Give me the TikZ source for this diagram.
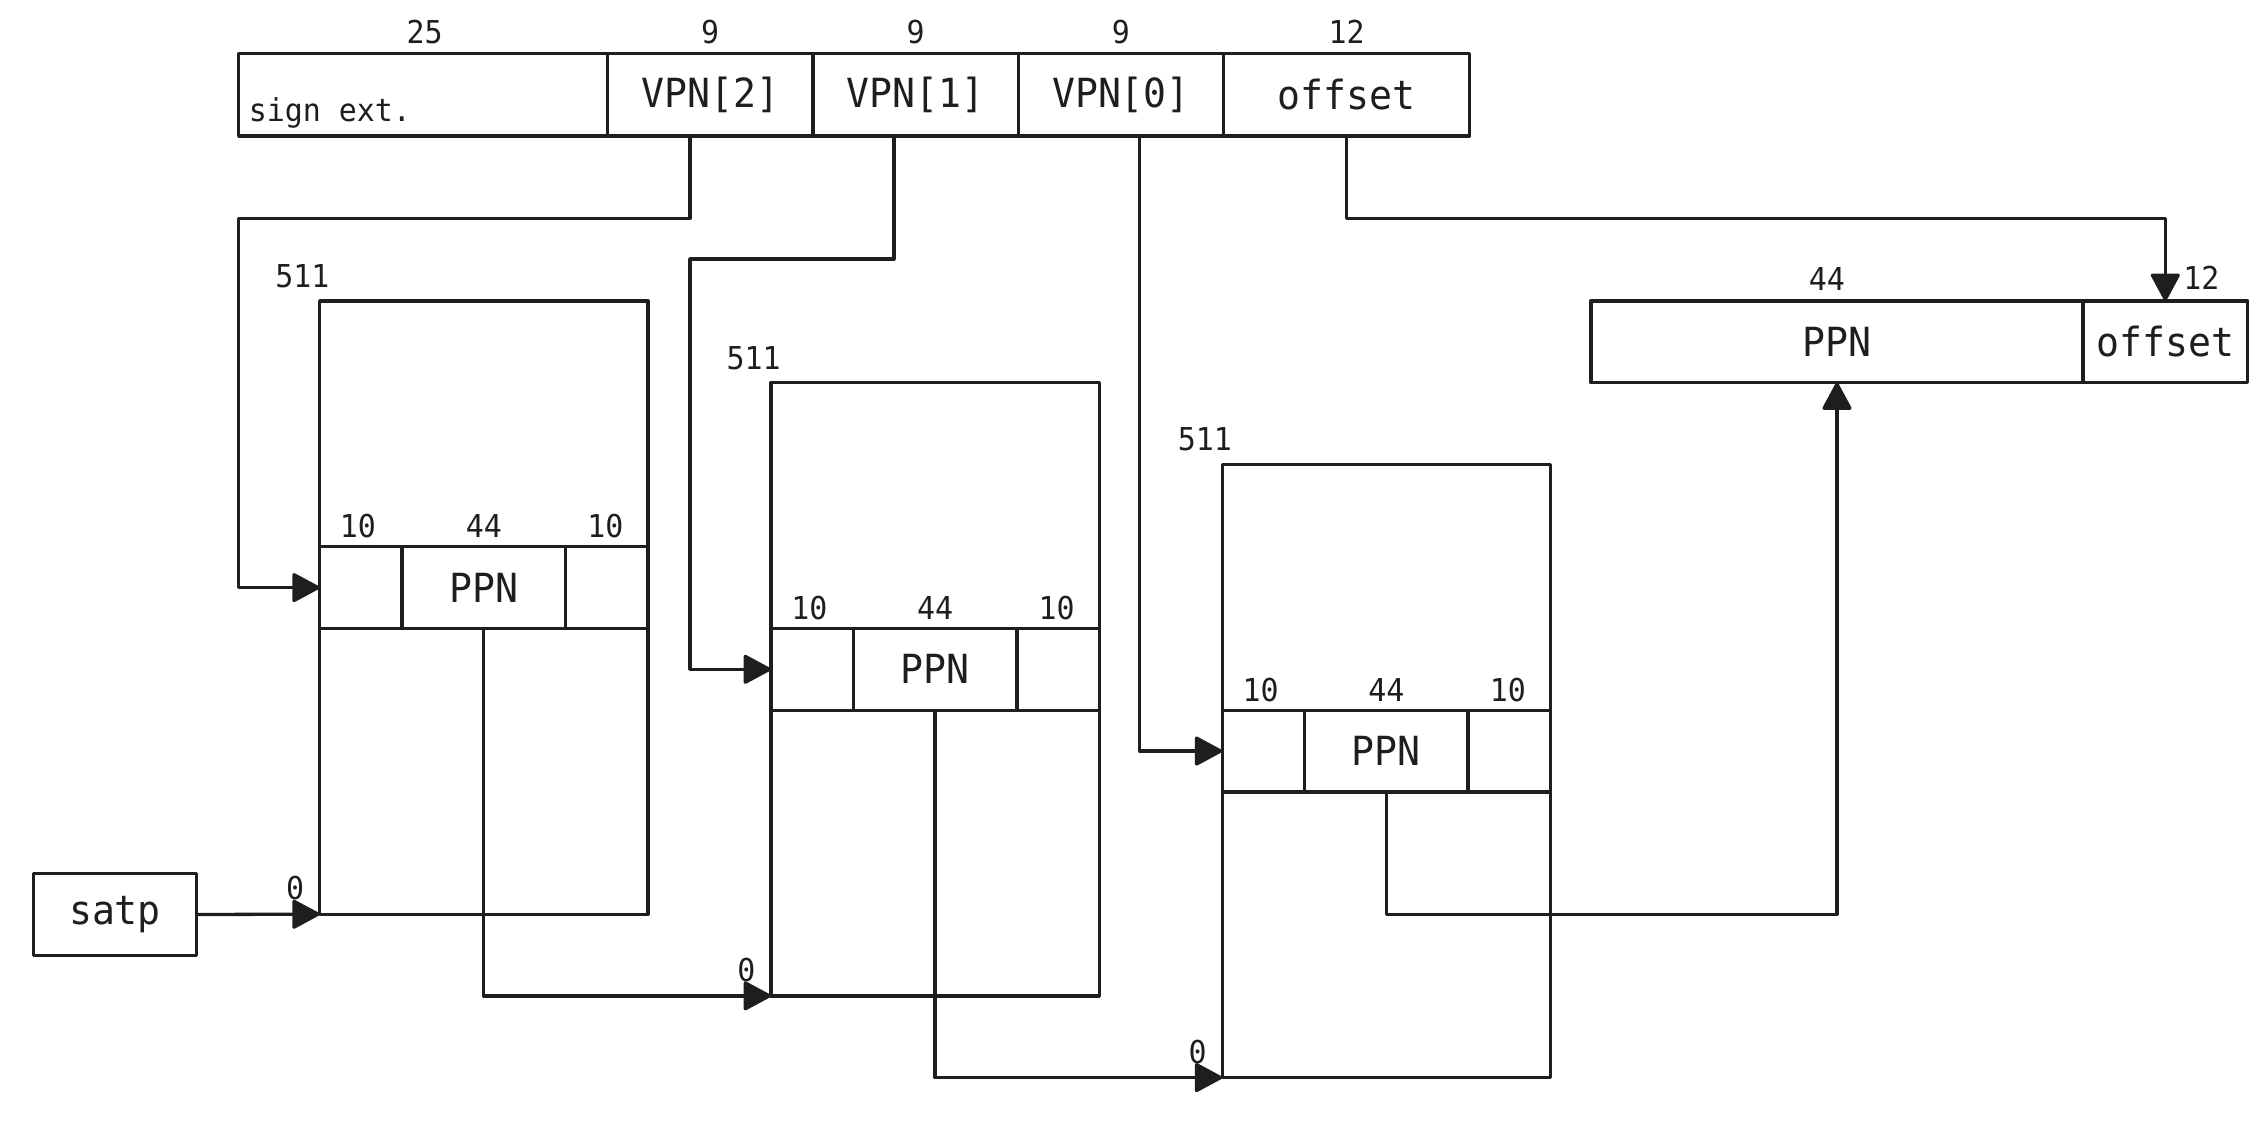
\documentclass[tikz,border=0pt]{standalone}
\usepackage{fontspec}
\newfontfamily\codefont{DejaVu Sans Mono}[FakeStretch=0.95]
\usetikzlibrary{arrows.meta,calc}
\definecolor{ink}{HTML}{1E1E1E}
\def\u{0.02cm}
\begin{document}
\begin{tikzpicture}[x=0.02cm, y=-0.02cm, line width=1.3pt, line join=round,
  color=ink,
  every node/.style={inner sep=0pt, outer sep=0pt, text=ink},
  big/.style={font=\codefont\fontsize{15.8}{18}\selectfont},
  small/.style={font=\codefont\fontsize{12.4}{14}\selectfont},
  cell/.style={draw, anchor=north west, minimum height=57*\u, big},
  ecell/.style={draw, anchor=north west, minimum height=56.5*\u, big},
  tbl/.style={draw, anchor=north west, minimum width=227*\u, minimum height=424*\u},
  arr/.style={-{Triangle[length=11.5pt, width=12pt, round]}}
]
\useasboundingbox (0,0) rectangle (1568,777);

% virtual address fields
\node[cell, minimum width=255*\u] (sgn) at (165,37) {};
\node[cell, minimum width=142*\u] (v2) at (420,37) {VPN[2]};
\node[cell, minimum width=142*\u] (v1) at (562,37) {VPN[1]};
\node[cell, minimum width=142*\u] (v0) at (704,37) {VPN[0]};
\node[cell, minimum width=170*\u] (off) at (846,37) {offset};
\node[small, anchor=west] (sgntxt) at (172,78) {sign ext.};
\node[small] (w25) at ($(sgn.north)+(1,-15)$) {25};
\node[small] (w9a) at ($(v2.north)+(0,-15)$) {9};
\node[small] (w9b) at ($(v1.north)+(0,-15)$) {9};
\node[small] (w9c) at ($(v0.north)+(0,-15)$) {9};
\node[small] (w12) at ($(off.north)+(0,-15)$) {12};

% three page-table levels
\foreach \i/\x/\y in {1/221/208, 2/533/264.5, 3/845/321}{
  \node[tbl] (t\i) at (\x,\y) {};
  \node[ecell, minimum width=57*\u] (e\i-a) at (\x,\y+170) {};
  \node[ecell, minimum width=113*\u] (e\i-b) at (\x+57,\y+170) {PPN};
  \node[ecell, minimum width=57*\u] (e\i-c) at (\x+170,\y+170) {};
  \node[small] (l\i-a) at ($(e\i-a.north)+(-2,-14)$) {10};
  \node[small] (l\i-b) at ($(e\i-b.north)+(0,-14)$) {44};
  \node[small] (l\i-c) at ($(e\i-c.north)+(-1,-14)$) {10};
  \node[small] (top\i) at ($(t\i.north west)+(-12,-17)$) {511};
  \node[small] (bot\i) at ($(t\i.south west)+(-17,-18)$) {0};
}

% root pointer
\node[ecell, minimum width=113*\u] (satp) at (23,604) {satp};

% physical address
\node[ecell, minimum width=340*\u] (rppn) at (1100,208) {PPN};
\node[ecell, minimum width=114*\u] (roff) at (1440,208) {offset};
\node[small] (r44) at (1263,193) {44};
\node[small] (r12) at (1522,192) {12};

% bends of the index lines
\coordinate (k1) at (165,151);
\coordinate (k2) at (477,179);
\coordinate (k3) at (1497,151);
\coordinate (k4) at (1270,632);

% index lines from the virtual address
\draw[arr] ($(v2.south west)+(57,0)$) |- (k1) |- (e1-a.west);
\draw[arr] ($(v1.south west)+(56,0)$) |- (k2) |- (e2-a.west);
\draw[arr] ($(v0.south west)+(84,0)$) |- (e3-a.west);
\draw[arr] (off.south) |- (k3) -- (roff.north);

% table base pointers
\draw[arr] (satp.east) -- (t1.south west);
\draw[arr] (e1-b.south) |- (t2.south west);
\draw[arr] (e2-b.south) |- (t3.south west);
\draw[arr] (e3-b.south) |- (k4) -- (rppn.south);
\end{tikzpicture}
\end{document}
